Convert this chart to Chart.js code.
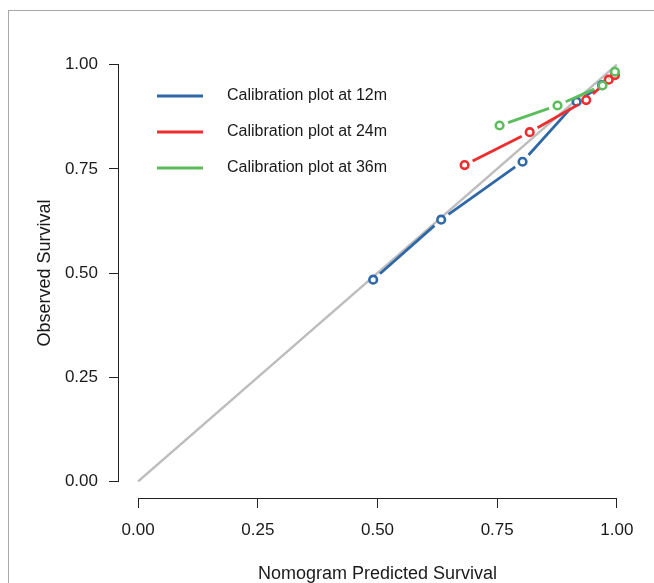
<!DOCTYPE html>
<html>
<head>
<meta charset="utf-8">
<script src="https://cdn.jsdelivr.net/npm/chart.js@4.4.1/dist/chart.umd.min.js"></script>
<style>
  body { margin: 0; background: #fff; }
  #wrap { position: relative; width: 654px; height: 583px; overflow: hidden; }
  #frame { position: absolute; left: 8px; top: 10px; width: 700px; height: 700px;
           border-top: 1px solid #a8a8a8; border-left: 1px solid #a8a8a8; pointer-events: none; }
  canvas { position: absolute; left: 0; top: 0; }
</style>
</head>
<body>
<div id="wrap">
  <canvas id="calibrationChart" width="654" height="583"></canvas>
  <div id="frame"></div>
</div>
<script>
// predicted vs observed survival
const pred12 = [0.491, 0.633, 0.803, 0.916, 0.969];
const obs12  = [0.484, 0.628, 0.767, 0.911, 0.951];
const pred24 = [0.682, 0.818, 0.936, 0.983, 0.996];
const obs24  = [0.759, 0.838, 0.915, 0.964, 0.975];
const pred36 = [0.755, 0.876, 0.970, 0.996];
const obs36  = [0.854, 0.902, 0.950, 0.983];
const refLine = [0, 1];
const tickValues = [0, 0.25, 0.5, 0.75, 1];
const seriesLabels = ['Calibration plot at 12m', 'Calibration plot at 24m', 'Calibration plot at 36m'];
const seriesColors = ['#2f68a6', '#ee2d2f', '#5cbd5c'];

const FONT = '"Liberation Sans", Arial, sans-serif';
const GAP = 9; // R type="b": line stops short of each point

function toPoints(xs, ys) {
    return xs.map((x, i) => ({ x: x, y: ys[i] }));
}

function segLen(c) {
    return Math.hypot(c.p1.x - c.p0.x, c.p1.y - c.p0.y);
}

function series(i, xs, ys) {
    return {
        label: seriesLabels[i],
        data: toPoints(xs, ys),
        borderColor: seriesColors[i],
        backgroundColor: '#ffffff',
        pointBorderColor: seriesColors[i],
        pointBackgroundColor: '#ffffff',
        borderWidth: 2.8,
        pointRadius: 3.8,
        pointBorderWidth: 2.6,
        order: 2 - i,
        segment: {
            borderDash: (c) => {
                const L = segLen(c);
                return [Math.max(L - 2 * GAP, 0), Math.min(2 * GAP, L) + 0.01];
            },
            borderDashOffset: (c) => segLen(c) - GAP,
        }
    };
}

// R style axes: a line only from 0 to 1, plus an inside legend
const rAxes = {
    id: 'rAxes',
    afterDraw(chart) {
        const c = chart.ctx;
        const xs = chart.scales.x, ys = chart.scales.y;
        const area = chart.chartArea;
        c.save();
        c.strokeStyle = '#222';
        c.lineWidth = 1;
        c.beginPath();
        c.moveTo(xs.getPixelForValue(0), area.bottom + 0.5);
        c.lineTo(xs.getPixelForValue(1), area.bottom + 0.5);
        c.moveTo(area.left - 0.5, ys.getPixelForValue(0));
        c.lineTo(area.left - 0.5, ys.getPixelForValue(1));
        c.stroke();

        // legend
        c.font = '16px ' + FONT;
        c.textBaseline = 'middle';
        c.fillStyle = '#1a1a1a';
        chart.data.datasets.forEach((ds, i) => {
            if (i >= seriesLabels.length) return;
            const y = area.top + 48 + i * 36;
            const x = area.left + 38;
            c.strokeStyle = seriesColors[i];
            c.lineWidth = 2.8;
            c.beginPath();
            c.moveTo(x, y);
            c.lineTo(x + 46, y);
            c.stroke();
            c.fillText(ds.label, x + 70, y);
        });
        c.restore();
    }
};

const ctx = document.getElementById('calibrationChart').getContext('2d');
const tickFont = { size: 17, family: FONT };
const titleFont = { size: 18, family: FONT, lineHeight: 1 };

const calibrationChart = new Chart(ctx, {
    type: 'line',
    data: {
        datasets: [
            series(0, pred12, obs12),
            series(1, pred24, obs24),
            series(2, pred36, obs36),
            {
                label: 'reference',
                data: toPoints(refLine, refLine),
                borderColor: '#bdbdbd',
                borderWidth: 2.5,
                pointRadius: 0,
                order: 10,
            }
        ]
    },
    options: {
        responsive: false,
        animation: false,
        layout: { padding: { top: 48, right: 18, left: 0, bottom: 0 } },
        plugins: {
            legend: { display: false },
            tooltip: { enabled: false },
        },
        scales: {
            x: {
                type: 'linear',
                min: -0.04,
                max: 1.04,
                afterBuildTicks: (scale) => { scale.ticks = tickValues.map(v => ({ value: v })); },
                afterFit: (scale) => { scale.height = 85; },
                border: { display: false },
                grid: { drawOnChartArea: false, drawTicks: true, tickLength: 10, color: '#222' },
                ticks: {
                    color: '#1a1a1a',
                    font: tickFont,
                    padding: 12,
                    maxRotation: 0,
                    callback: (v) => v.toFixed(2),
                },
                title: {
                    display: true,
                    text: 'Nomogram Predicted Survival',
                    color: '#1a1a1a',
                    font: titleFont,
                    padding: { top: 0, bottom: 0 },
                }
            },
            y: {
                type: 'linear',
                min: -0.04,
                max: 1.04,
                afterBuildTicks: (scale) => { scale.ticks = tickValues.map(v => ({ value: v })); },
                afterFit: (scale) => { scale.width = 119; },
                border: { display: false },
                grid: { drawOnChartArea: false, drawTicks: true, tickLength: 10, color: '#222' },
                ticks: {
                    color: '#1a1a1a',
                    font: tickFont,
                    padding: 11,
                    callback: (v) => v.toFixed(2),
                },
                title: {
                    display: true,
                    text: 'Observed Survival',
                    color: '#1a1a1a',
                    font: titleFont,
                    padding: { top: 36, bottom: 0 },
                }
            }
        }
    },
    plugins: [rAxes]
});
</script>
</body>
</html>
